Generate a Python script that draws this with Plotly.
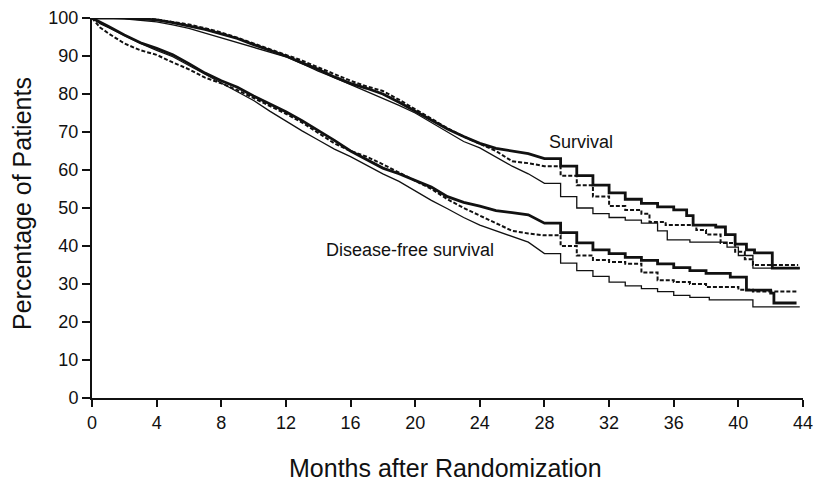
import plotly.graph_objects as go

# ---- Data ----
surv_thick_t = [0, 1, 2, 3, 4, 5, 6, 7, 8, 9, 10, 11, 12, 13, 14, 15, 16, 17, 18, 19, 20, 21, 22, 23, 24, 25, 26, 27, 28, 29, 30, 31, 32, 33, 34, 35, 36, 36.8, 37.2, 38.6, 39.2, 39.8, 40.5, 41, 42.1, 43.8]
surv_thick_v = [100, 100, 100, 99.8, 99.5, 98.8, 98, 97, 95.8, 94.6, 93, 91.5, 90, 88.2, 86.5, 84.5, 82.8, 81.5, 80, 77.8, 75.5, 73, 70.8, 68.8, 67, 65.7, 65, 64.3, 63, 61, 58.5, 56, 54, 52.3, 51.2, 50.3, 49.5, 48, 45.5, 45, 43, 40.5, 39, 38.2, 34.2, 34.2]

surv_dash_t = [0, 1, 2, 3, 4, 5, 6, 7, 8, 9, 10, 11, 12, 13, 14, 15, 16, 17, 18, 19, 20, 21, 22, 23, 24, 25, 26, 27, 28, 29, 30, 31, 32, 33, 34, 34.5, 35.5, 37.4, 38, 38.9, 39.8, 40.4, 40.9, 43.7]
surv_dash_v = [100, 100, 100, 100, 99.6, 99, 98.3, 97.3, 96.2, 94.8, 93.2, 91.8, 90.3, 88.8, 87, 85.2, 83.5, 82, 80.8, 78.5, 76, 73.5, 71, 68.8, 66.8, 65, 62.3, 61.8, 61, 58.5, 56, 53, 50.5, 49.5, 48.5, 46.3, 45.5, 44.2, 43, 40.8, 38.5, 36.5, 35, 35]

surv_thin_t = [0, 1, 2, 3, 4, 5, 6, 7, 8, 9, 10, 11, 12, 13, 14, 15, 16, 17, 18, 19, 20, 21, 22, 23, 24, 25, 26, 27, 28, 29, 30, 31, 32, 33, 34, 35, 35.6, 37, 39.3, 40, 40.9, 43.8]
surv_thin_v = [100, 100, 99.8, 99.4, 99, 98.2, 97.3, 96, 94.8, 93.5, 92.3, 91, 89.8, 88, 86, 84.3, 82.5, 80.8, 78.9, 77, 75, 72.5, 70, 67.5, 65.8, 63.5, 61, 59, 56.5, 53, 50, 48.5, 47.5, 46.8, 46, 44, 41.6, 41, 39.7, 37.5, 34.2, 34.2]

dfs_thick_t = [0, 0.5, 1, 2, 3, 4, 5, 6, 7, 8, 9, 10, 11, 12, 13, 14, 15, 16, 17, 18, 19, 20, 21, 22, 23, 24, 25, 26, 27, 28, 29, 30, 31, 32, 33, 34, 35, 36, 37, 38, 39.5, 40.5, 42, 42.2, 43.6]
dfs_thick_v = [100, 98.8, 97.8, 95.5, 93.5, 92, 90.3, 88, 85.5, 83.5, 81.8, 79.5, 77.5, 75.3, 73, 70.5, 67.8, 65, 62.8, 60.5, 59, 57.3, 55.5, 53, 51.5, 50.5, 49.3, 48.8, 48.2, 46, 43.5, 40.8, 39, 38, 37, 36.2, 35.3, 34.3, 33.5, 32.8, 31.8, 28.4, 27.6, 25, 25]

dfs_dash_t = [0, 0.5, 1, 2, 3, 4, 5, 6, 7, 8, 9, 10, 11, 12, 13, 14, 15, 16, 17, 18, 19, 20, 21, 22, 23, 24, 25, 26, 27, 28, 29, 30, 31, 32, 33, 34, 35, 36, 37, 38, 40, 40.9, 43.7]
dfs_dash_v = [100, 97.5, 96, 93.3, 91.5, 90.3, 88.3, 86.5, 84.3, 82.8, 81, 79, 77, 74.8, 72.5, 69.8, 67, 65, 63.5, 61.5, 59.3, 57, 55, 52.3, 50, 48, 46, 44, 43.3, 42.8, 40, 37.5, 36.3, 35.8, 35.3, 33, 31, 30.5, 30, 29.2, 28.5, 28, 28]

dfs_thin_t = [0, 0.5, 1, 2, 3, 4, 5, 6, 7, 8, 9, 10, 11, 12, 13, 14, 15, 16, 17, 18, 19, 20, 21, 22, 23, 24, 25, 26, 27, 28, 29, 30, 31, 32, 33, 34, 35, 36, 37, 38.2, 40.9, 43.8]
dfs_thin_v = [100, 98.5, 97.5, 95.3, 93.3, 91.5, 89.8, 87.5, 85.2, 83, 80.8, 78.3, 75.5, 72.8, 70.3, 67.9, 65.5, 63.5, 61.2, 59, 57, 54.5, 52, 49.8, 47.5, 45.5, 44, 42.5, 41, 38, 35.5, 33.5, 32, 30.5, 29.5, 28.8, 28, 27, 26.5, 25.8, 24, 24]

x_ticks = [0, 4, 8, 12, 16, 20, 24, 28, 32, 36, 40, 44]
y_ticks = [0, 10, 20, 30, 40, 50, 60, 70, 80, 90, 100]

STEP_FROM = 28  # months after which the curves are drawn as visible steps

FONT = "Liberation Sans, Arial, Helvetica, sans-serif"
INK = "#111111"


def km_path(t, v, step_from):
    """Smooth (fine-stepped) body, explicit horizontal-then-vertical steps in the tail."""
    xs, ys = [t[0]], [v[0]]
    for i in range(1, len(t)):
        if t[i] > step_from:
            xs.append(t[i]); ys.append(v[i - 1])
        xs.append(t[i]); ys.append(v[i])
    return xs, ys


series = [
    (surv_thin_t, surv_thin_v, dict(width=1.3, color=INK)),
    (surv_dash_t, surv_dash_v, dict(width=2.0, color=INK, dash="4px,2px")),
    (surv_thick_t, surv_thick_v, dict(width=2.8, color=INK)),
    (dfs_thin_t, dfs_thin_v, dict(width=1.3, color=INK)),
    (dfs_dash_t, dfs_dash_v, dict(width=2.0, color=INK, dash="4px,2px")),
    (dfs_thick_t, dfs_thick_v, dict(width=2.8, color=INK)),
]

fig = go.Figure()
for t, v, ln in series:
    xs, ys = km_path(t, v, STEP_FROM)
    fig.add_trace(go.Scatter(x=xs, y=ys, mode="lines", line=dict(shape="linear", **ln),
                             cliponaxis=False, showlegend=False, hoverinfo="skip"))

fig.update_layout(
    template="none",
    width=814, height=483,
    margin=dict(l=92, r=11, t=18, b=85, autoexpand=False),
    paper_bgcolor="white", plot_bgcolor="white",
    font=dict(family=FONT, size=18, color=INK),
    showlegend=False,
)
fig.update_xaxes(range=[0, 44], tickvals=x_ticks, ticktext=[str(v) for v in x_ticks],
                 automargin=False,
                 showgrid=False, zeroline=False, showline=True, linecolor=INK, linewidth=2,
                 ticks="outside", ticklen=7, tickwidth=2, tickcolor=INK,
                 tickfont=dict(size=18, family=FONT, color=INK))
fig.update_yaxes(range=[0, 100], tickvals=y_ticks, ticktext=[str(v) for v in y_ticks],
                 automargin=False,
                 showgrid=False, zeroline=False, showline=True, linecolor=INK, linewidth=2,
                 ticks="outside", ticklen=8, tickwidth=2, tickcolor=INK,
                 tickfont=dict(size=18, family=FONT, color=INK))

fig.add_annotation(text="Months after Randomization", xref="paper", yref="paper",
                   x=0.497, y=-0.185, showarrow=False, xanchor="center", yanchor="middle",
                   font=dict(size=25, family=FONT, color=INK))
fig.add_annotation(text="Percentage of Patients", xref="paper", yref="paper",
                   x=-0.0985, y=0.513, showarrow=False, xanchor="center", yanchor="middle",
                   textangle=-90, font=dict(size=25, family=FONT, color=INK))
fig.add_annotation(text="Survival", x=28.16, y=67.4, xref="x", yref="y", showarrow=False,
                   xanchor="left", yanchor="middle", font=dict(size=18, family=FONT, color=INK))
fig.add_annotation(text="Disease-free survival", x=14.36, y=38.9, xref="x", yref="y",
                   showarrow=False, xanchor="left", yanchor="middle",
                   font=dict(size=18, family=FONT, color=INK))

# remove the browser's default 8px page margin so the figure fills the window exactly
fig.write_html("out.html", config={"displayModeBar": False},
               post_script="document.body.style.margin='0px';document.body.style.overflow='hidden';")
